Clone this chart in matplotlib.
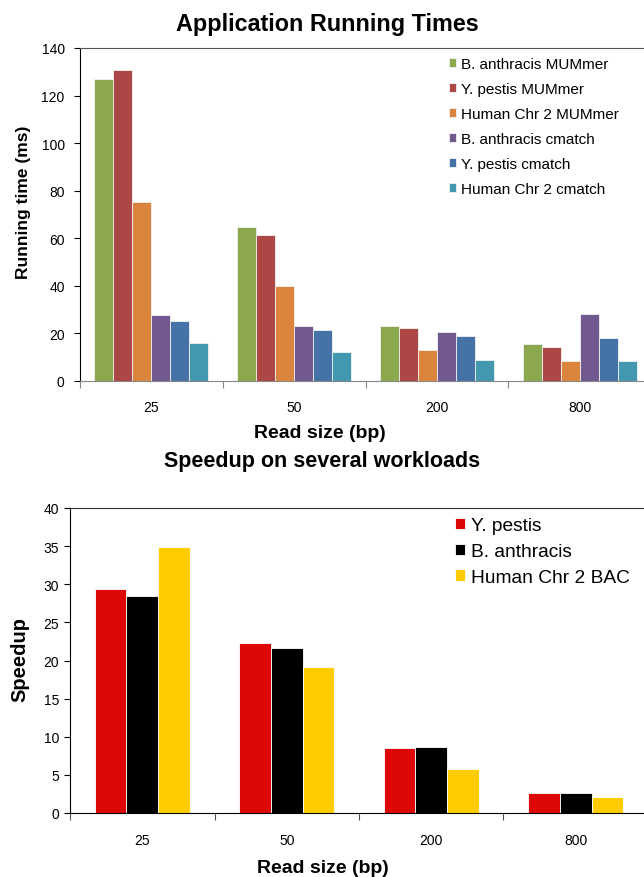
import matplotlib
matplotlib.use("Agg")
import matplotlib.pyplot as plt
import numpy as np

plt.rcParams['font.family'] = ['Liberation Sans', 'DejaVu Sans']

# Running times (ms) per read size
read_sizes = ["25", "50", "200", "800"]
time_series = ["B. anthracis MUMmer", "Y. pestis MUMmer", "Human Chr 2 MUMmer",
               "B. anthracis cmatch", "Y. pestis cmatch", "Human Chr 2 cmatch"]
b_anthracis_mummer = [127.0, 64.6, 23.1, 15.4]
y_pestis_mummer = [130.6, 61.5, 22.1, 14.4]
human_mummer = [75.4, 39.9, 13.2, 8.4]
b_anthracis_cmatch = [27.9, 23.1, 20.6, 28.0]
y_pestis_cmatch = [25.1, 21.3, 18.9, 18.1]
human_cmatch = [16.0, 12.1, 8.8, 8.3]
time_colors = ["#8CA84F", "#AB4745", "#DB843D", "#71588F", "#4572A7", "#4198AF"]

# Speedup per read size
speed_series = ["Y. pestis", "B. anthracis", "Human Chr 2 BAC"]
speedup_y_pestis = [29.4, 22.25, 8.57, 2.58]
speedup_b_anthracis = [28.5, 21.6, 8.66, 2.66]
speedup_human = [34.9, 19.15, 5.81, 2.14]
speed_colors = ["#DD0806", "#000000", "#FFCC00"]

W, H = 644, 878
fig = plt.figure(figsize=(W / 100, H / 100), dpi=100)


def px_axes(left, top, right, bottom):
    return fig.add_axes([left / W, 1 - bottom / H, (right - left) / W, (bottom - top) / H])


def grouped_bars(ax, series_vals, colors, labels, group_frac, edge, xpad, ypad):
    n = len(series_vals)
    x = np.arange(len(read_sizes))
    w = group_frac / n
    for i, (vals, c, lab) in enumerate(zip(series_vals, colors, labels)):
        ax.bar(x - group_frac / 2 + w * (i + 0.5), vals, width=w, color=c,
               edgecolor=edge, linewidth=0.6, label=lab, zorder=2)
    ax.set_xlim(-0.5, len(read_sizes) - 0.5)
    ax.set_xticks(np.arange(len(read_sizes) + 1) - 0.5)
    ax.set_xticklabels([])
    ax.set_xticks(x, minor=True)
    ax.set_xticklabels(read_sizes, minor=True)
    ax.tick_params(axis='x', which='major', length=5, direction='out', color='#888888')
    ax.tick_params(axis='x', which='minor', length=0, pad=xpad, labelsize=10)
    ax.tick_params(axis='y', length=4, direction='out', labelsize=10, pad=ypad)


# Top panel: running times
ax1 = px_axes(80, 49, 651, 382)
grouped_bars(ax1, [b_anthracis_mummer, y_pestis_mummer, human_mummer,
                   b_anthracis_cmatch, y_pestis_cmatch, human_cmatch],
             time_colors, time_series, 0.8, '#f2f2f2', 13.5, 7)
ax1.set_ylim(0, 140)
ax1.set_yticks(np.arange(0, 141, 20))
ax1.spines['top'].set_color('#555555')
ax1.spines['bottom'].set_color('#888888')
ax1.spines['left'].set_color('#000000')
ax1.spines['right'].set_visible(False)
ax1.legend(loc='upper left', bbox_to_anchor=(0.635, 0.991), frameon=False,
           fontsize=11, handlelength=0.48, handleheight=0.48, handletextpad=0.33,
           labelspacing=0.72, borderaxespad=0.0)

# Bottom panel: speedup
ax2 = px_axes(70, 509, 648, 814)
grouped_bars(ax2, [speedup_y_pestis, speedup_b_anthracis, speedup_human],
             speed_colors, speed_series, 0.66, '#ffffff', 14.4, 4)
ax2.set_ylim(0, 40)
ax2.set_yticks(np.arange(0, 41, 5))
ax2.spines['top'].set_color('#333333')
ax2.spines['bottom'].set_color('#000000')
ax2.spines['left'].set_color('#000000')
ax2.spines['right'].set_visible(False)
ax2.tick_params(axis='x', which='major', color='#555555')
ax2.legend(loc='upper left', bbox_to_anchor=(0.653, 0.994), frameon=False,
           fontsize=13.8, handlelength=0.52, handleheight=0.52, handletextpad=0.3,
           labelspacing=0.45, borderaxespad=0.0)

# Titles and axis labels
fig.text(327 / W, 1 - 24 / H, "Application Running Times", ha='center', va='center',
         fontsize=16.8, fontweight='bold')
fig.text(322 / W, 1 - 462 / H, "Speedup on several workloads", ha='center', va='center',
         fontsize=15.5, fontweight='bold')
fig.text(320 / W, 1 - 434 / H, "Read size (bp)", ha='center', va='center',
         fontsize=14, fontweight='bold')
fig.text(323 / W, 1 - 869 / H, "Read size (bp)", ha='center', va='center',
         fontsize=14, fontweight='bold')
fig.text(24 / W, 1 - 202 / H, "Running time (ms)", ha='center', va='center',
         fontsize=12.5, fontweight='bold', rotation=90)
fig.text(20 / W, 1 - 660 / H, "Speedup", ha='center', va='center',
         fontsize=14.5, fontweight='bold', rotation=90)

fig.savefig("out.png", dpi=100)
